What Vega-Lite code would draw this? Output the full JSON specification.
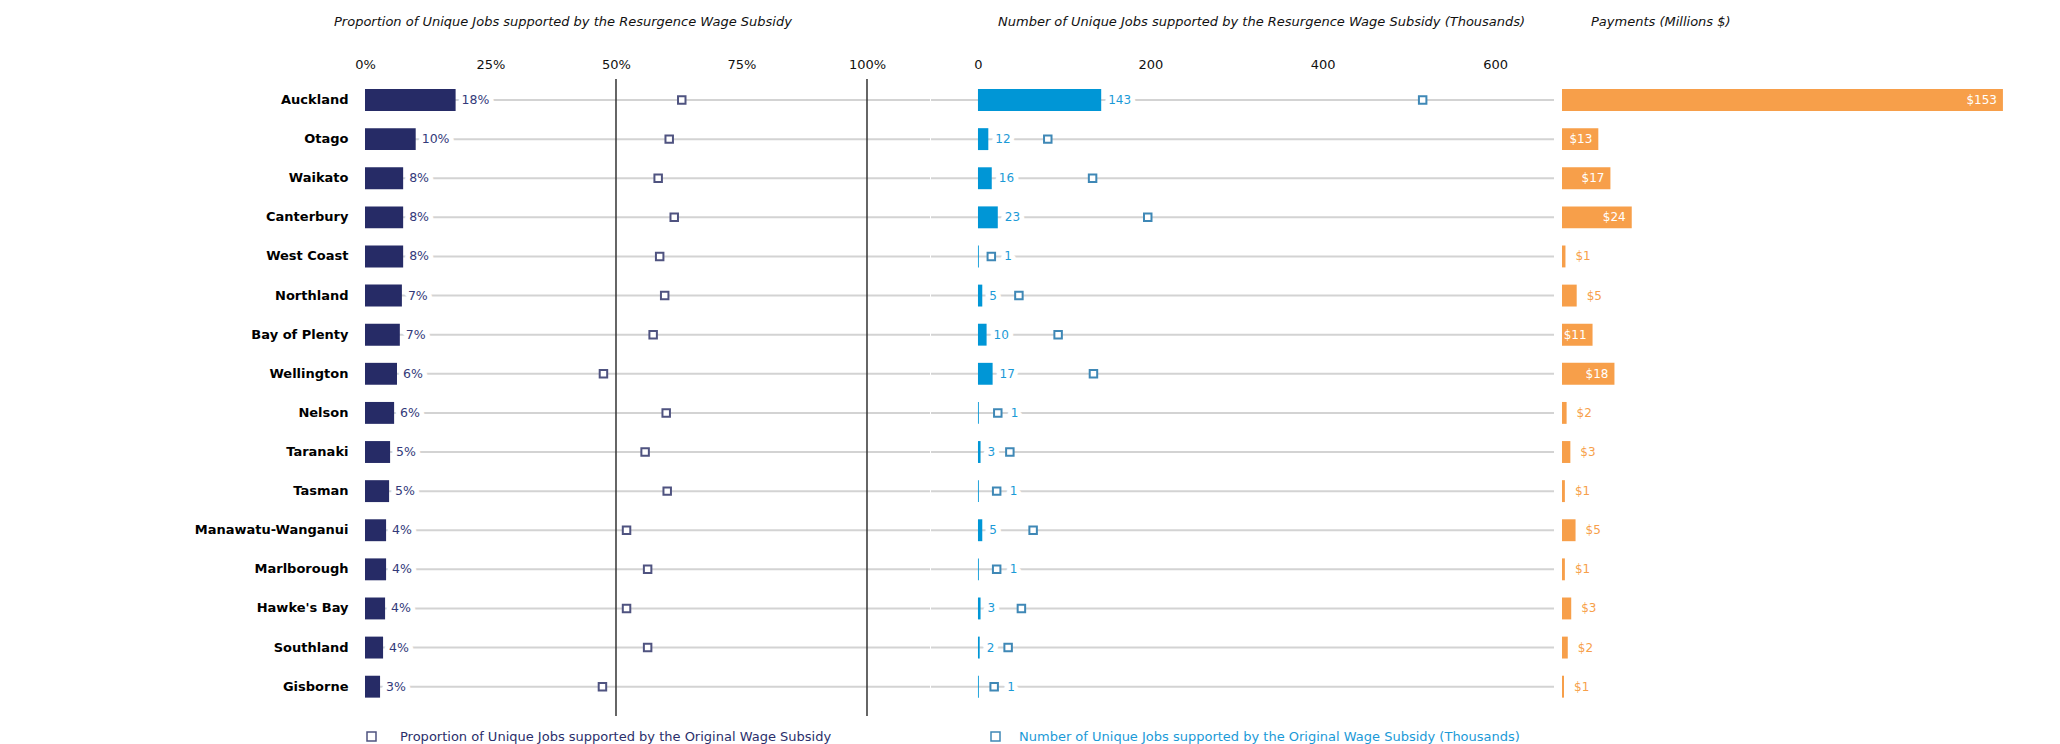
{
  "$schema": "https://vega.github.io/schema/vega-lite/v6.json",
  "background": "white",
  "padding": {"left": 192, "top": 16, "right": 0, "bottom": 0},
  "spacing": -2,
  "config": {
    "view": {"stroke": null},
    "font": "DejaVu Sans",
    "title": {"font": "DejaVu Sans", "fontSize": 13, "fontStyle": "italic", "fontWeight": "normal", "color": "#111111", "anchor": "start", "frame": "group"}
  },
  "datasets": {
    "d": [
      {"region": "Auckland", "prop": 0.1805, "orig_prop": 0.631, "jobs": 143, "orig_jobs": 516, "pay": 153},
      {"region": "Otago", "prop": 0.101, "orig_prop": 0.606, "jobs": 12, "orig_jobs": 81, "pay": 12.6},
      {"region": "Waikato", "prop": 0.076, "orig_prop": 0.584, "jobs": 16, "orig_jobs": 133, "pay": 16.8},
      {"region": "Canterbury", "prop": 0.076, "orig_prop": 0.616, "jobs": 23, "orig_jobs": 197, "pay": 24.2},
      {"region": "West Coast", "prop": 0.076, "orig_prop": 0.587, "jobs": 1, "orig_jobs": 15.5, "pay": 1.2},
      {"region": "Northland", "prop": 0.0735, "orig_prop": 0.597, "jobs": 5, "orig_jobs": 47.5, "pay": 5.1},
      {"region": "Bay of Plenty", "prop": 0.0694, "orig_prop": 0.574, "jobs": 10, "orig_jobs": 93, "pay": 10.6},
      {"region": "Wellington", "prop": 0.0637, "orig_prop": 0.475, "jobs": 17, "orig_jobs": 134, "pay": 18.2},
      {"region": "Nelson", "prop": 0.058, "orig_prop": 0.6, "jobs": 1, "orig_jobs": 23, "pay": 1.6},
      {"region": "Taranaki", "prop": 0.05, "orig_prop": 0.558, "jobs": 3, "orig_jobs": 37, "pay": 2.9},
      {"region": "Tasman", "prop": 0.048, "orig_prop": 0.602, "jobs": 1, "orig_jobs": 21.7, "pay": 1.0},
      {"region": "Manawatu-Wanganui", "prop": 0.042, "orig_prop": 0.521, "jobs": 5, "orig_jobs": 64, "pay": 4.7},
      {"region": "Marlborough", "prop": 0.042, "orig_prop": 0.563, "jobs": 1, "orig_jobs": 21.7, "pay": 1.0},
      {"region": "Hawke's Bay", "prop": 0.04, "orig_prop": 0.521, "jobs": 3, "orig_jobs": 50.4, "pay": 3.2},
      {"region": "Southland", "prop": 0.036, "orig_prop": 0.563, "jobs": 2, "orig_jobs": 35, "pay": 2.0},
      {"region": "Gisborne", "prop": 0.03, "orig_prop": 0.473, "jobs": 1, "orig_jobs": 18.8, "pay": 0.7}
    ]
  },
  "resolve": {"scale": {"x": "independent", "y": "independent", "stroke": "independent"}, "legend": {"stroke": "independent"}},
  "hconcat": [
    {
      "width": 565,
      "height": 637,
      "title": {"text": "Proportion of Unique Jobs supported by the Resurgence Wage Subsidy", "dx": -31, "offset": 20},
      "data": {"name": "d"},
      "layer": [
        {
          "mark": {"type": "rule", "color": "#d3d3d3", "strokeWidth": 2},
          "encoding": {
            "y": {"field": "region", "type": "nominal", "title": null, "scale": {"domain": ["Auckland", "Otago", "Waikato", "Canterbury", "West Coast", "Northland", "Bay of Plenty", "Wellington", "Nelson", "Taranaki", "Tasman", "Manawatu-Wanganui", "Marlborough", "Hawke's Bay", "Southland", "Gisborne"], "paddingInner": 0.44, "paddingOuter": 0.3635, "align": 0.354}, "axis": {"orient": "left", "domain": false, "ticks": false, "grid": false, "labelFontWeight": "bold", "labelFontSize": 13, "labelColor": "#000000", "labelPadding": 17, "minExtent": 173, "maxExtent": 173, "title": null}}
          }
        },
        {
          "data": {"values": [{"ref": 0.5}, {"ref": 1}]},
          "mark": {"type": "rule", "color": "#333333", "strokeWidth": 1.5},
          "encoding": {
            "x": {"field": "ref", "type": "quantitative", "title": null, "scale": {"domain": [0, 1.1255], "nice": false, "zero": false}, "axis": {"orient": "top", "values": [0, 0.25, 0.5, 0.75, 1], "format": ".0%", "domain": false, "ticks": false, "grid": false, "labelFontSize": 13, "labelColor": "#111111", "labelPadding": 8, "labelFlush": false, "minExtent": 30, "maxExtent": 30, "title": null}}
          }
        },
        {
          "mark": {"type": "text", "align": "left", "baseline": "middle", "dx": 6, "fontSize": 12.5, "fill": "white", "stroke": "white", "strokeWidth": 10, "strokeJoin": "round"},
          "encoding": {
            "y": {"field": "region", "type": "nominal", "title": null},
            "x": {"field": "prop", "type": "quantitative", "title": null},
            "text": {"field": "prop", "type": "quantitative", "format": ".0%"}
          }
        },
        {
          "mark": {"type": "bar", "color": "#262b66"},
          "encoding": {
            "y": {"field": "region", "type": "nominal", "title": null},
            "x": {"field": "prop", "type": "quantitative", "title": null}
          }
        },
        {
          "mark": {"type": "point", "shape": "square", "size": 56, "filled": true, "fill": "white", "strokeWidth": 2, "opacity": 1},
          "encoding": {
            "y": {"field": "region", "type": "nominal", "title": null},
            "x": {"field": "orig_prop", "type": "quantitative", "title": null},
            "stroke": {"datum": "Proportion of Unique Jobs supported by the Original Wage Subsidy", "type": "nominal", "scale": {"range": ["#4f5380"]}, "legend": {"orient": "none", "legendX": 0, "legendY": 651, "title": null, "symbolType": "square", "symbolSize": 81, "symbolStrokeWidth": 1.5, "symbolFillColor": "white", "labelFontSize": 13, "labelColor": "#2b2f6b", "labelOffset": 22, "labelLimit": 0, "padding": 0}}
          }
        },
        {
          "mark": {"type": "text", "align": "left", "baseline": "middle", "dx": 6, "fontSize": 12.5, "color": "#333a7a"},
          "encoding": {
            "y": {"field": "region", "type": "nominal", "title": null},
            "x": {"field": "prop", "type": "quantitative", "title": null},
            "text": {"field": "prop", "type": "quantitative", "format": ".0%"}
          }
        }
      ]
    },
    {
      "width": 623,
      "height": 637,
      "title": {"text": "Number of Unique Jobs supported by the Resurgence Wage Subsidy (Thousands)", "dx": 67, "offset": 20},
      "data": {"name": "d"},
      "layer": [
        {
          "mark": {"type": "rule", "color": "#d3d3d3", "strokeWidth": 2},
          "encoding": {
            "y": {"field": "region", "type": "nominal", "title": null, "scale": {"domain": ["Auckland", "Otago", "Waikato", "Canterbury", "West Coast", "Northland", "Bay of Plenty", "Wellington", "Nelson", "Taranaki", "Tasman", "Manawatu-Wanganui", "Marlborough", "Hawke's Bay", "Southland", "Gisborne"], "paddingInner": 0.44, "paddingOuter": 0.3635, "align": 0.354}, "axis": null}
          }
        },
        {
          "transform": [{"filter": "datum.orig_jobs - datum.jobs >= 25"}],
          "mark": {"type": "text", "align": "left", "baseline": "middle", "dx": 7, "fontSize": 12, "fill": "white", "stroke": "white", "strokeWidth": 10, "strokeJoin": "round"},
          "encoding": {
            "y": {"field": "region", "type": "nominal", "title": null},
            "x": {"field": "jobs", "type": "quantitative", "title": null, "scale": {"domain": [-54.5, 668.4], "nice": false, "zero": false}, "axis": {"orient": "top", "values": [0, 200, 400, 600], "format": "d", "domain": false, "ticks": false, "grid": false, "labelFontSize": 13, "labelColor": "#111111", "labelPadding": 8, "labelFlush": false, "minExtent": 30, "maxExtent": 30, "title": null}},
            "text": {"field": "jobs", "type": "quantitative", "format": ".0f"}
          }
        },
        {
          "transform": [{"filter": "datum.orig_jobs - datum.jobs < 25"}],
          "mark": {"type": "text", "align": "left", "baseline": "middle", "dx": 13, "fontSize": 12, "fill": "white", "stroke": "white", "strokeWidth": 10, "strokeJoin": "round"},
          "encoding": {
            "y": {"field": "region", "type": "nominal", "title": null},
            "x": {"field": "orig_jobs", "type": "quantitative", "title": null},
            "text": {"field": "jobs", "type": "quantitative", "format": ".0f"}
          }
        },
        {
          "mark": {"type": "bar", "color": "#0096d6"},
          "encoding": {
            "y": {"field": "region", "type": "nominal", "title": null},
            "x": {"field": "jobs", "type": "quantitative", "title": null}
          }
        },
        {
          "mark": {"type": "point", "shape": "square", "size": 56, "filled": true, "fill": "white", "strokeWidth": 2, "opacity": 1},
          "encoding": {
            "y": {"field": "region", "type": "nominal", "title": null},
            "x": {"field": "orig_jobs", "type": "quantitative", "title": null},
            "stroke": {"datum": "Number of Unique Jobs supported by the Original Wage Subsidy (Thousands)", "type": "nominal", "scale": {"range": ["#3f88b6"]}, "legend": {"orient": "none", "legendX": 58, "legendY": 651, "title": null, "symbolType": "square", "symbolSize": 81, "symbolStrokeWidth": 1.5, "symbolFillColor": "white", "labelFontSize": 13, "labelColor": "#1b9ad7", "labelOffset": 17, "labelLimit": 0, "padding": 0}}
          }
        },
        {
          "transform": [{"filter": "datum.orig_jobs - datum.jobs >= 25"}],
          "mark": {"type": "text", "align": "left", "baseline": "middle", "dx": 7, "fontSize": 12, "color": "#1b9ad7"},
          "encoding": {
            "y": {"field": "region", "type": "nominal", "title": null},
            "x": {"field": "jobs", "type": "quantitative", "title": null},
            "text": {"field": "jobs", "type": "quantitative", "format": ".0f"}
          }
        },
        {
          "transform": [{"filter": "datum.orig_jobs - datum.jobs < 25"}],
          "mark": {"type": "text", "align": "left", "baseline": "middle", "dx": 13, "fontSize": 12, "color": "#1b9ad7"},
          "encoding": {
            "y": {"field": "region", "type": "nominal", "title": null},
            "x": {"field": "orig_jobs", "type": "quantitative", "title": null},
            "text": {"field": "jobs", "type": "quantitative", "format": ".0f"}
          }
        }
      ]
    },
    {
      "width": 507,
      "height": 637,
      "title": {"text": "Payments (Millions $)", "dx": 36, "offset": 20},
      "data": {"name": "d"},
      "layer": [
        {
          "mark": {"type": "bar", "color": "#f79f4a"},
          "encoding": {
            "y": {"field": "region", "type": "nominal", "title": null, "scale": {"domain": ["Auckland", "Otago", "Waikato", "Canterbury", "West Coast", "Northland", "Bay of Plenty", "Wellington", "Nelson", "Taranaki", "Tasman", "Manawatu-Wanganui", "Marlborough", "Hawke's Bay", "Southland", "Gisborne"], "paddingInner": 0.44, "paddingOuter": 0.3635, "align": 0.354}, "axis": null},
            "x": {"field": "pay", "type": "quantitative", "title": null, "scale": {"domain": [-2.43, 173.5], "nice": false, "zero": false}, "axis": {"orient": "top", "labels": false, "domain": false, "ticks": false, "grid": false, "minExtent": 30, "maxExtent": 30, "title": null}}
          }
        },
        {
          "transform": [{"filter": "datum.pay >= 10"}],
          "mark": {"type": "text", "align": "right", "baseline": "middle", "dx": -6, "fontSize": 12, "color": "white"},
          "encoding": {
            "y": {"field": "region", "type": "nominal", "title": null},
            "x": {"field": "pay", "type": "quantitative", "title": null},
            "text": {"field": "pay", "type": "quantitative", "format": "$.0f"}
          }
        },
        {
          "transform": [{"filter": "datum.pay < 10"}],
          "mark": {"type": "text", "align": "left", "baseline": "middle", "dx": 10, "fontSize": 12, "color": "#f79f4a"},
          "encoding": {
            "y": {"field": "region", "type": "nominal", "title": null},
            "x": {"field": "pay", "type": "quantitative", "title": null},
            "text": {"field": "pay", "type": "quantitative", "format": "$.0f"}
          }
        }
      ]
    }
  ]
}
